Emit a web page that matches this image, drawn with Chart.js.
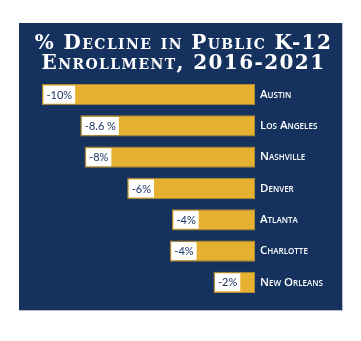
<!DOCTYPE html>
<html>
<head>
<meta charset="utf-8">
<script src="https://cdn.jsdelivr.net/npm/chart.js@4"></script>
<style>
  html, body { margin: 0; padding: 0; background: #fff; }
  .panel {
    position: absolute;
    left: 19px;
    top: 23px;
    width: 323px;
    height: 287px;
    background: #15325f;
    border-right: 1px solid #b3bdd0;
    border-bottom: 1px solid #b3bdd0;
  }
</style>
</head>
<body>
<div class="panel"><canvas class="myChart"></canvas></div>
<script>
const cities = ["Austin", "Los Angeles", "Nashville", "Denver", "Atlanta", "Charlotte", "New Orleans"];
// bar lengths as drawn in the picture
const declines = [-10, -8.2, -8, -6, -3.9, -4, -1.95];
// text printed in the white tags
const valueLabels = ["-10%", "-8.6 %", "-8%", "-6%", "-4%", "-4%", "-2%"];
const titleLines = ["% Decline in Public K-12", "Enrollment, 2016-2021"];

const navy = "#15325f";
const gold = "#e6b031";

// white tag with the value at the left end of each bar
const valueTags = {
  id: "valueTags",
  afterDatasetsDraw(chart) {
    const ctx = chart.ctx;
    const meta = chart.getDatasetMeta(0);
    ctx.save();
    ctx.font = "11px Lato";
    ctx.textBaseline = "middle";
    meta.data.forEach((bar, i) => {
      const text = valueLabels[i];
      const w = ctx.measureText(text).width + 6;
      const h = 18;
      const x = bar.x + 1.5;
      ctx.fillStyle = "#ffffff";
      ctx.fillRect(x, bar.y - h / 2, w, h);
      ctx.fillStyle = "#1b3563";
      ctx.fillText(text, x + 3, bar.y + 0.5);
    });
    ctx.restore();
  },
};

// wider letter spacing for the title only (spacing pushes centred text right, so pull it back)
const titleSpacing = {
  id: "titleSpacing",
  beforeDraw(chart) {
    const t = chart.titleBlock;
    if (!t || t._spaced) return;
    const orig = t.draw.bind(t);
    t.draw = function () {
      chart.ctx.save();
      chart.ctx.letterSpacing = "1.4px";
      chart.ctx.translate(-8.5, 0);
      orig();
      chart.ctx.restore();
    };
    t._spaced = true;
  },
};

function show() {
  const ctx = document.querySelector(".myChart");

  new Chart(ctx, {
    type: "bar",
    data: {
      labels: cities,
      datasets: [
        {
          data: declines,
          backgroundColor: gold,
          borderColor: "#b38b33",
          borderWidth: 1,
          borderSkipped: false,
          barPercentage: 0.68,
          categoryPercentage: 1,
        },
      ],
    },
    options: {
      indexAxis: "y",
      responsive: true,
      maintainAspectRatio: false,
      animation: false,
      layout: {
        padding: { left: 23, right: 0, top: 0, bottom: 12 },
      },
      plugins: {
        legend: { display: false },
        tooltip: { enabled: false },
        title: {
          display: true,
          text: titleLines,
          color: "#ffffff",
          font: {
            family: "'DejaVu Serif'",
            size: 20,
            weight: "small-caps bold",
            lineHeight: "20px",
          },
          padding: { top: 11, bottom: 5 },
        },
      },
      scales: {
        x: {
          display: false,
          min: -10,
          max: 0,
        },
        y: {
          position: "right",
          grid: { display: false, drawTicks: false },
          border: { display: false },
          ticks: {
            color: "#ffffff",
            padding: 5,
            font: { family: "'Open Sans'", size: 11.5, weight: "small-caps 600" },
          },
          afterFit(scale) {
            scale.width = 87;
          },
        },
      },
    },
    plugins: [valueTags, titleSpacing],
  });
}

show();
</script>
</body>
</html>
